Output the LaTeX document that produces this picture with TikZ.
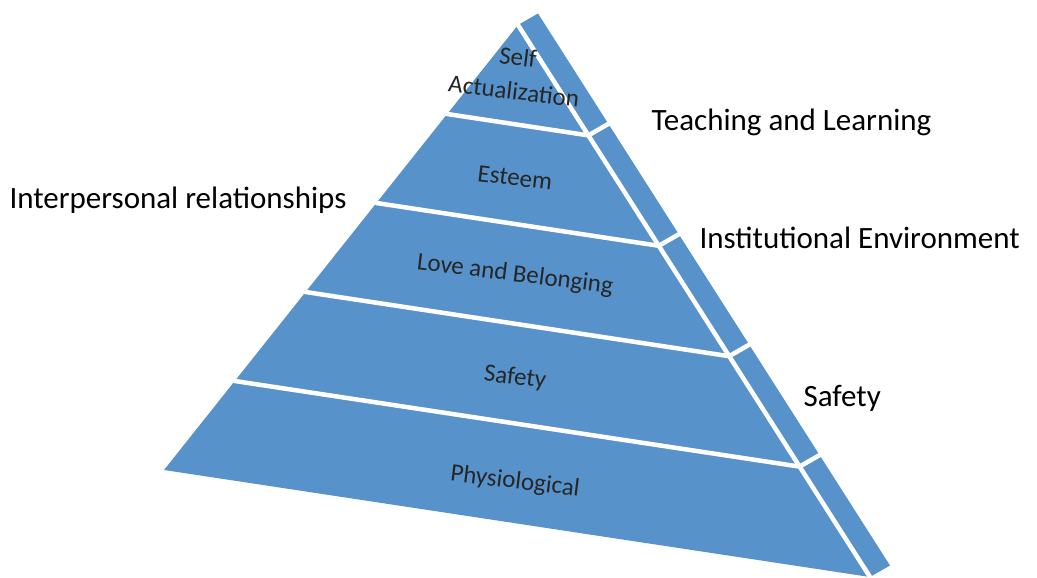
\documentclass[tikz,border=0pt]{standalone}
\usepackage{fontspec}
\setmainfont{Carlito}
\usepackage{tikz}
\usetikzlibrary{calc,positioning}
\definecolor{pyrblue}{RGB}{87,146,202}
\tikzstyle{face} = [fill=pyrblue, draw=none]
\tikzstyle{gap} = [draw=white, line width=4.5pt, line cap=round]
\tikzset{
  level/.style={align=center, rotate=-7, font=\fontsize{25}{31}\selectfont, text=black!85},
  side/.style={anchor=west, font=\fontsize{31}{37}\selectfont, text=black}
}

\begin{document}
\begin{tikzpicture}[x=1pt, y=-1pt]
    \useasboundingbox (0,0) rectangle (1037,578);
    % corners
    \coordinate (apex) at (518,25);
    \coordinate (botleft) at (164,470);
    \coordinate (botright) at (870,577);
    \coordinate (depth) at (20,-11.5);
    % faces
    \fill[face] (apex) -- (botright) -- (botleft) -- cycle;
    \fill[face] (apex) -- ($(apex)+(depth)$) -- ($(botright)+(depth)$) -- (botright) -- cycle;
    % band lines
    \foreach \t in {0.2,0.4,0.6,0.8}{
        \draw[gap] ($(apex)!\t!(botleft)$) -- ($(apex)!\t!(botright)$) -- ($(apex)!\t!(botright)+(depth)$);
    }
    \draw[gap] (apex) -- (botright);
    % levels
    \node (SelfAct) [level] at (516,74) {Self\\[3pt]Actualization};
    \node (Esteem)  [level] at (515,178) {Esteem};
    \node (Love)    [level] at (515,275) {Love and Belonging};
    \node (SafetyL) [level] at (515,378) {Safety};
    \node (Physio)  [level] at (515,482) {Physiological};
    % labels
    \node (Teaching)      [side] at (648,122) {Teaching and Learning};
    \node (Interpersonal) [side] at (6,200) {Interpersonal relationships};
    \node (Institutional) [side] at (696,238) {Institutional Environment};
    \node (SafetyR)       [side] at (800,398) {Safety};
\end{tikzpicture}
\end{document}
